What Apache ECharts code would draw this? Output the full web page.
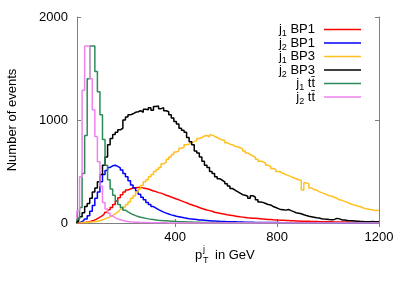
<!DOCTYPE html>
<html>
<head>
<meta charset="utf-8">
<script src="https://cdn.jsdelivr.net/npm/echarts@6/dist/echarts.min.js"></script>
<style>
html,body{margin:0;padding:0;background:#fff;}
#c{width:403px;height:283px;}
</style>
</head>
<body>
<div id="c"></div>
<script>
// Histogram bins: centres at 10, 20, ..., 1200 GeV (10 GeV wide)
const binStart = 10;
const binWidth = 10;

const xTicks = [400, 800, 1200];
const yTicks = [0, 1000, 2000];

const seriesNames = ['j1 BP1', 'j2 BP1', 'j1 BP3', 'j2 BP3', 'j1 tt', 'j2 tt'];

const j1BP1 = [
  0,1,2,4,7,11,17,25,35,50,
  65,82,105,128,150,180,210,245,275,300,
  320,330,340,343,345,346,340,335,330,320,
  310,305,295,290,280,270,262,252,243,233,
  225,215,205,197,185,177,168,160,150,140,
  133,126,120,114,105,100,95,90,85,80,
  76,72,68,64,60,57,54,51,49,47,
  45,43,41,39,37,35,33,31,30,28,
  27,26,25,24,22,21,20,19,18,17,
  17,16,15,15,14,13,13,12,12,11,
  11,10,10,10,9,9,9,8,8,8,
  7,7,7,7,6,6,6,6,5,5
];

const j2BP1 = [
  0,2,8,20,40,70,115,170,240,300,
  400,470,510,540,555,560,550,535,515,480,
  450,410,370,340,310,280,250,225,200,180,
  160,145,130,118,106,96,87,79,72,65,
  60,55,50,46,42,39,36,33,30,28,
  26,24,22,20,19,18,16,15,14,13,
  12,11,11,10,9,9,8,8,7,7,
  6,6,6,5,5,5,4,4,4,4,
  3,3,3,3,3,3,2,2,2,2,
  2,2,2,2,2,2,2,2,1,1,
  1,1,1,1,1,1,1,1,1,1,
  1,1,1,1,1,1,1,1,1,1
];

const j1BP3 = [
  0,1,2,4,6,8,10,12,15,20,
  27,35,45,55,68,82,98,115,135,155,
  180,205,240,265,300,330,365,400,420,450,
  470,500,520,540,575,590,620,640,665,690,
  700,725,735,760,765,780,790,800,820,830,
  845,850,835,855,840,830,815,805,800,780,
  765,760,745,740,730,720,700,680,665,650,
  640,620,600,595,580,560,550,530,520,500,
  495,480,470,460,450,440,430,420,415,320,
  390,380,340,325,320,305,295,285,275,265,
  260,250,240,225,220,210,200,190,180,175,
  165,160,150,140,135,130,128,120,125,118
];

const j2BP3 = [
  5,15,60,100,160,190,240,300,340,400,
  470,560,640,760,820,860,880,905,920,1000,
  1030,1050,1060,1075,1080,1090,1075,1105,1100,1120,
  1095,1130,1135,1110,1120,1090,1080,1050,1020,985,
  960,920,900,880,830,790,760,700,680,640,
  600,560,540,500,480,450,430,415,400,380,
  360,335,320,305,290,275,270,260,240,265,
  250,225,205,200,190,180,175,160,150,140,
  130,128,125,132,120,110,100,95,90,80,
  72,65,60,55,50,48,42,38,36,33,
  32,35,45,40,30,28,25,22,22,20,
  18,16,15,13,13,12,14,12,13,12
];

const j1tt = [
  10,40,150,480,850,1400,1718,1718,1470,1275,
  1050,810,560,420,330,270,215,180,150,125,
  108,94,82,72,63,56,50,45,40,36,
  33,30,27,25,23,21,19,17,16,15,
  13,12,11,10,9,9,8,7,7,6,
  6,5,5,5,4,4,4,3,3,3,
  3,3,2,2,2,2,2,2,2,1,
  1,1,1,1,1,1,1,1,1,1,
  1,1,1,0,0,0,0,0,0,0,
  0,0,0,0,0,0,0,0,0,0,
  0,0,0,0,0,0,0,0,0,0,
  0,0,0,0,0,0,0,0,0,0
];

const j2tt = [
  30,120,450,1290,1718,1718,1400,1100,840,595,
  360,200,135,95,70,52,40,31,24,19,
  15,12,10,8,7,6,5,4,4,3,
  3,3,2,2,2,2,1,1,1,1,
  1,1,1,1,0,0,0,0,0,0,
  0,0,0,0,0,0,0,0,0,0,
  0,0,0,0,0,0,0,0,0,0,
  0,0,0,0,0,0,0,0,0,0,
  0,0,0,0,0,0,0,0,0,0,
  0,0,0,0,0,0,0,0,0,0,
  0,0,0,0,0,0,0,0,0,0,
  0,0,0,0,0,0,0,0,0,0
];

const colors = ['#ff0000', '#0000ff', '#ffc020', '#000000', '#2e8b57', '#ee82ee'];
const allValues = [j1BP1, j2BP1, j1BP3, j2BP3, j1tt, j2tt];

const FONT = "'Liberation Sans', Arial, sans-serif";
const frameColor = '#808080';

function toPoints(arr) {
  return arr.map((v, i) => [binStart + i * binWidth, v]);
}

const chart = echarts.init(document.getElementById('c'), null, {renderer: 'canvas'});

const plainNum = v => String(v);

const axisCommon = {
  axisLine: {show: true, lineStyle: {color: frameColor, width: 1}},
  splitLine: {show: false},
  axisTick: {show: true, inside: true, length: 4, lineStyle: {color: frameColor}},
  axisLabel: {color: '#000', fontFamily: FONT, fontSize: 13, formatter: plainNum}
};

const option = {
  animation: false,
  backgroundColor: '#fff',
  grid: {left: 77, right: 24, top: 17, bottom: 60, containLabel: false, outerBoundsMode: 'none'},
  xAxis: [
    {
      type: 'value', min: 15, max: 1200, position: 'bottom',
      axisLine: axisCommon.axisLine, splitLine: axisCommon.splitLine,
      axisTick: Object.assign({}, axisCommon.axisTick, {customValues: xTicks}),
      axisLabel: Object.assign({}, axisCommon.axisLabel, {customValues: xTicks, margin: 8})
    },
    {
      type: 'value', min: 15, max: 1200, position: 'top',
      axisLine: axisCommon.axisLine, splitLine: axisCommon.splitLine,
      axisTick: Object.assign({}, axisCommon.axisTick, {customValues: xTicks}),
      axisLabel: {show: false}
    }
  ],
  yAxis: [
    {
      type: 'value', min: 0, max: 2000, interval: 1000, position: 'left',
      axisLine: axisCommon.axisLine, splitLine: axisCommon.splitLine,
      axisTick: Object.assign({}, axisCommon.axisTick, {customValues: yTicks}),
      axisLabel: Object.assign({}, axisCommon.axisLabel, {customValues: yTicks, margin: 9}),
      name: 'Number of events', nameLocation: 'middle', nameGap: 58,
      nameTextStyle: {color: '#000', fontFamily: FONT, fontSize: 13}
    },
    {
      type: 'value', min: 0, max: 2000, interval: 1000, position: 'right',
      axisLine: axisCommon.axisLine, splitLine: axisCommon.splitLine,
      axisTick: Object.assign({}, axisCommon.axisTick, {customValues: yTicks}),
      axisLabel: {show: false}
    }
  ],
  legend: {
    show: true,
    orient: 'vertical',
    right: 42,
    top: 23,
    padding: 0,
    align: 'right',
    itemGap: -2,
    itemWidth: 37,
    itemHeight: 1.5,
    icon: 'rect',
    selectedMode: false,
    data: seriesNames,
    formatter: function (name) {
      const parts = name.split(' ');
      const idx = parts[0].charAt(1);
      let rest = parts[1];
      if (rest === 'tt') rest = 'tt\u0304';
      return '{m|j}{s|' + idx + '}{r| ' + rest + '}';
    },
    textStyle: {
      color: '#000',
      fontFamily: FONT,
      fontSize: 13,
      rich: {
        m: {fontFamily: FONT, fontSize: 13, lineHeight: 18, verticalAlign: 'middle', color: '#000'},
        r: {fontFamily: FONT, fontSize: 13, lineHeight: 18, verticalAlign: 'middle', color: '#000', padding: [0, 4, 0, 0]},
        s: {fontFamily: FONT, fontSize: 9, lineHeight: 9, verticalAlign: 'bottom', color: '#000'}
      }
    }
  },
  graphic: [
    {type: 'text', left: 195, top: 249, style: {text: 'p', font: "13px 'Liberation Sans', Arial, sans-serif", fill: '#000'}},
    {type: 'text', left: 203, top: 245, style: {text: 'j', font: "9px 'Liberation Sans', Arial, sans-serif", fill: '#000'}},
    {type: 'text', left: 203, top: 256, style: {text: 'T', font: "9px 'Liberation Sans', Arial, sans-serif", fill: '#000'}},
    {type: 'text', left: 215, top: 249, style: {text: 'in GeV', font: "13px 'Liberation Sans', Arial, sans-serif", fill: '#000'}}
  ],
  series: seriesNames.map((n, k) => ({
    name: n,
    type: 'line',
    step: 'middle',
    xAxisIndex: 0,
    yAxisIndex: 0,
    showSymbol: false,
    symbol: 'none',
    clip: true,
    color: colors[k],
    itemStyle: {color: colors[k]},
    lineStyle: {color: colors[k], width: 1.5},
    data: toPoints(allValues[k])
  }))
};

chart.setOption(option);
</script>
</body>
</html>
